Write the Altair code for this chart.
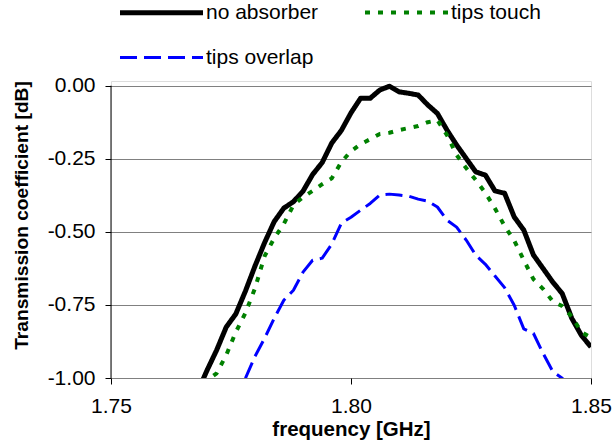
import altair as alt
import pandas as pd

freq_main = [1.768, 1.770, 1.772, 1.774, 1.776, 1.778, 1.780, 1.782, 1.784, 1.786,
             1.788, 1.790, 1.792, 1.794, 1.796, 1.798, 1.800, 1.802, 1.804, 1.806,
             1.808, 1.810, 1.812, 1.814, 1.816, 1.818, 1.820, 1.822, 1.824, 1.826,
             1.828, 1.830, 1.832, 1.834, 1.836, 1.838, 1.840, 1.842, 1.844, 1.846,
             1.848, 1.850]
no_absorber = [-1.049, -0.974, -0.905, -0.826, -0.781, -0.703, -0.617, -0.537, -0.465, -0.419,
               -0.397, -0.361, -0.304, -0.263, -0.196, -0.153, -0.093, -0.043, -0.043, -0.015,
               -0.002, -0.021, -0.026, -0.032, -0.066, -0.095, -0.152, -0.203, -0.249, -0.295,
               -0.306, -0.360, -0.368, -0.449, -0.494, -0.579, -0.625, -0.671, -0.711, -0.796,
               -0.854, -0.894]
tips_touch = [-1.060, -1.008, -0.984, -0.922, -0.843, -0.778, -0.693, -0.583, -0.522, -0.473,
              -0.409, -0.381, -0.360, -0.337, -0.317, -0.261, -0.224, -0.200, -0.183, -0.165,
              -0.161, -0.152, -0.145, -0.138, -0.125, -0.118, -0.169, -0.237, -0.282, -0.323,
              -0.367, -0.420, -0.480, -0.530, -0.597, -0.662, -0.695, -0.737, -0.754, -0.790,
              -0.843, -0.862]
freq_overlap = [1.776, 1.778, 1.780, 1.782, 1.784, 1.786, 1.788, 1.790, 1.792, 1.794,
                1.796, 1.798, 1.800, 1.802, 1.804, 1.806, 1.808, 1.810, 1.812, 1.814,
                1.816, 1.818, 1.820, 1.822, 1.824, 1.826, 1.828, 1.830, 1.832, 1.834,
                1.836, 1.838, 1.840, 1.842, 1.844, 1.846]
tips_overlap = [-1.076, -1.001, -0.926, -0.864, -0.796, -0.734, -0.700, -0.638, -0.597, -0.590,
                -0.542, -0.470, -0.450, -0.426, -0.403, -0.374, -0.371, -0.374, -0.378, -0.388,
                -0.395, -0.415, -0.460, -0.484, -0.528, -0.580, -0.611, -0.651, -0.691, -0.751,
                -0.832, -0.847, -0.915, -0.977, -1.001, -1.030]

series_names = ["no absorber", "tips touch", "tips overlap"]
series_colors = ["#000000", "#008000", "#0000FF"]
series_dash = [[1, 0], [5, 8], [17, 7]]
series_width = [5, 3, 3]
x_ticks = [1.75, 1.80, 1.85]
y_ticks = [0.0, -0.25, -0.5, -0.75, -1.0]

rows = []
for f, v in zip(freq_main, no_absorber):
    rows.append({"f": f, "v": v, "s": series_names[0]})
for f, v in zip(freq_main, tips_touch):
    rows.append({"f": f, "v": v, "s": series_names[1]})
for f, v in zip(freq_overlap, tips_overlap):
    rows.append({"f": f, "v": v, "s": series_names[2]})
df = pd.DataFrame(rows)

FONT = "Liberation Sans"

xscale = alt.Scale(domain=[1.75, 1.85], nice=False, zero=False)
yscale = alt.Scale(domain=[-1.0, 0.016], nice=False, zero=False)

legend = alt.Legend(
    orient="none", legendX=20, legendY=-99, direction="horizontal", columns=2,
    title=None, symbolType="M-1.5,0H1.5", symbolSize=3062, labelFont=FONT,
    labelFontSize=21, labelColor="#000000", labelOffset=14, columnPadding=37,
    rowPadding=5, padding=0,
)

lines = alt.Chart(df).mark_line(clip=True, strokeJoin="round").encode(
    x=alt.X("f:Q", scale=xscale, axis=alt.Axis(
        values=x_ticks, format=".2f", grid=False, domain=False, labelFlush=False,
        tickColor="#000000", tickSize=6, labelFont=FONT, labelFontSize=21,
        labelColor="#000000", labelPadding=11, title="frequency [GHz]",
        titleFont=FONT, titleFontSize=20.5, titleFontWeight="bold",
        titleColor="#000000", titlePadding=3)),
    y=alt.Y("v:Q", scale=yscale, axis=alt.Axis(
        values=y_ticks, grid=True, gridColor="#808080", gridWidth=1,
        domain=False, tickColor="#000000", tickSize=6, labelFlush=False,
        labelExpr="(datum.value < 0 ? '-' : '') + format(abs(datum.value), '.2f')",
        labelFont=FONT, labelFontSize=21, labelColor="#000000", labelPadding=10,
        title="Transmission coefficient [dB]", titleFont=FONT, titleFontSize=19.2,
        titleFontWeight="bold", titleColor="#000000", titlePadding=16, titleY=134)),
    color=alt.Color("s:N", scale=alt.Scale(domain=series_names, range=series_colors), legend=legend),
    strokeDash=alt.StrokeDash("s:N", scale=alt.Scale(domain=series_names, range=series_dash), legend=legend),
    strokeWidth=alt.StrokeWidth("s:N", scale=alt.Scale(domain=series_names, range=series_width), legend=legend),
    order="f:Q",
)

axis_line = alt.Chart(pd.DataFrame({"f": [1.75]})).mark_rule(color="#000000", strokeWidth=1).encode(
    x=alt.X("f:Q", scale=xscale),
    y=alt.datum(-1.0),
    y2=alt.datum(0.0),
)

chart = alt.layer(lines, axis_line).properties(
    width=480, height=297,
    autosize=alt.AutoSizeParams(type="none"),
    padding={"left": 111, "top": 81, "right": 22, "bottom": 65},
).configure_view(stroke=None).configure(background="#ffffff")

chart.save("out.html", embed_options={"renderer": "svg", "actions": False})
